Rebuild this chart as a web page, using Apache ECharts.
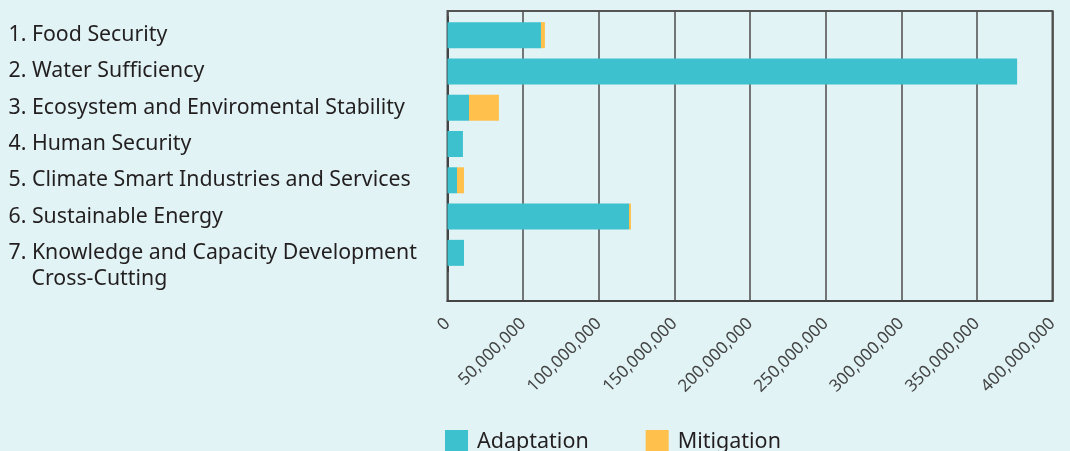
<!DOCTYPE html>
<html>
<head>
<meta charset="utf-8">
<script src="https://cdn.jsdelivr.net/npm/echarts@6/dist/echarts.min.js"></script>
<style>
html,body{margin:0;padding:0;background:#e1f3f5;}
#chart{width:1070px;height:451px;}
</style>
</head>
<body>
<div id="chart"></div>
<script>
var categories = [
  '1. Food Security',
  '2. Water Sufficiency',
  '3. Ecosystem and Enviromental Stability',
  '4. Human Security',
  '5. Climate Smart Industries and Services',
  '6. Sustainable Energy',
  '7. Knowledge and Capacity Development\nCross-Cutting'
];
var adaptation = [61800000, 376600000, 14200000, 10200000, 6300000, 120000000, 10900000];
var mitigation = [2600000, 0, 19800000, 0, 4600000, 1300000, 0];
var xTicks = [0, 50000000, 100000000, 150000000, 200000000, 250000000, 300000000, 350000000, 400000000];

var FONT = '"Noto Sans", "Open Sans", sans-serif';
var chart = echarts.init(document.getElementById('chart'), null, {renderer: 'canvas'});

function fmt(v){ return Number(v).toLocaleString('en-US'); }

function yFmt(c){
  var parts = c.split('\n');
  if (parts.length > 1) {
    return '{e| }\n{m|' + parts[0] + '}\n{s|' + parts[1] + '}';
  }
  return '{m|' + c + '}';
}

chart.setOption({
  backgroundColor: '#e1f3f5',
  animation: false,
  textStyle: {fontFamily: FONT},
  color: ['#3ec1cf', '#ffc04c'],
  legend: {
    left: 445, top: 430, padding: 0,
    icon: 'rect', itemWidth: 23, itemHeight: 23, itemGap: 57,
    textStyle: {fontSize: 21.5, color: '#231f20', fontFamily: FONT, padding: [0,0,0,4]},
    data: ['Adaptation', 'Mitigation']
  },
  grid: [
    {left: 447.5, top: 11, width: 605, height: 290, show: true, borderColor: '#555', borderWidth: 2, containLabel: false},
    {left: 447.5, top: 17, width: 605, height: 254, containLabel: false}
  ],
  xAxis: [
    {
      gridIndex: 0, type: 'value', min: xTicks[0], max: xTicks[xTicks.length-1],
      interval: xTicks[1] - xTicks[0],
      axisLine: {show: true, lineStyle: {color: '#444', width: 2}},
      axisTick: {show: false},
      splitLine: {show: true, lineStyle: {color: '#4d4d4d', width: 1.5}},
      axisLabel: {rotate: 45, margin: 20, fontSize: 17, color: '#444', fontFamily: FONT, formatter: fmt}
    },
    {
      gridIndex: 1, type: 'value', min: xTicks[0], max: xTicks[xTicks.length-1], show: false
    }
  ],
  yAxis: [
    {gridIndex: 0, type: 'value', show: false, min: 0, max: 1},
    {
      gridIndex: 1, type: 'category', inverse: true, data: categories,
      axisLine: {show: true, lineStyle: {color: '#444', width: 2}},
      axisTick: {show: false},
      splitLine: {show: false},
      axisLabel: {
        interval: 0, hideOverlap: false,
        align: 'left', margin: 439, color: '#231f20', fontFamily: FONT,
        formatter: yFmt,
        rich: {
          e: {fontSize: 21.3, lineHeight: 26},
          m: {fontSize: 21.3, color: '#231f20', fontFamily: FONT, lineHeight: 26},
          s: {fontSize: 21.3, color: '#231f20', fontFamily: FONT, lineHeight: 26, padding: [0,0,0,23]}
        }
      }
    }
  ],
  series: [
    {name: 'Adaptation', type: 'bar', stack: 'total', xAxisIndex: 1, yAxisIndex: 1, barWidth: 26, data: adaptation},
    {name: 'Mitigation', type: 'bar', stack: 'total', xAxisIndex: 1, yAxisIndex: 1, barWidth: 26, data: mitigation}
  ]
});
</script>
</body>
</html>
